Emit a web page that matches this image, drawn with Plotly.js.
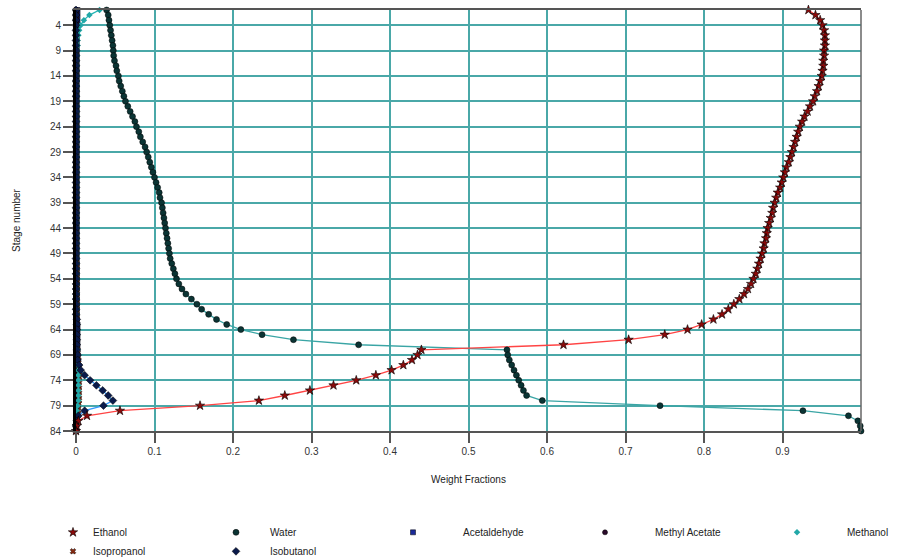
<!DOCTYPE html>
<html>
<head>
<meta charset="utf-8">
<script src="https://cdn.plot.ly/plotly-3.0.1.min.js"></script>
<style>html,body{margin:0;padding:0;background:#fff}#chart{width:898px;height:558px}</style>
</head>
<body>
<div id="chart"></div>
<script>
// ---------- data ----------
const stages = [1,2,3,4,5,6,7,8,9,10,11,12,13,14,15,16,17,18,19,20,21,22,23,24,25,26,27,28,29,30,31,32,33,34,35,36,37,38,39,40,41,42,43,44,45,46,47,48,49,50,51,52,53,54,55,56,57,58,59,60,61,62,63,64,65,66,67,68,69,70,71,72,73,74,75,76,77,78,79,80,81,82,83,84];

const ethanol = [0.933,0.942,0.948,0.951,0.953,0.954,0.954,0.954,0.953,0.953,
  0.952,0.952,0.951,0.950,0.948,0.946,0.944,0.941,0.939,0.935,
  0.932,0.928,0.925,0.922,0.920,0.918,0.916,0.914,0.912,0.910,
  0.908,0.905,0.903,0.901,0.899,0.897,0.894,0.892,0.890,0.888,
  0.887,0.885,0.883,0.881,0.880,0.879,0.877,0.876,0.874,0.872,
  0.870,0.868,0.866,0.863,0.860,0.856,0.851,0.845,0.838,0.831,
  0.823,0.812,0.797,0.779,0.750,0.704,0.621,0.440,0.435,0.428,
  0.417,0.402,0.382,0.357,0.328,0.298,0.266,0.233,0.158,0.056,
  0.014,0.003,0.001,0.000];

const water = [0.039,0.041,0.042,0.043,0.044,0.045,0.046,0.047,0.0475,0.048,
  0.049,0.051,0.052,0.054,0.055,0.057,0.059,0.061,0.063,0.066,
  0.069,0.072,0.075,0.077,0.080,0.082,0.085,0.088,0.090,0.092,
  0.094,0.096,0.098,0.100,0.102,0.104,0.106,0.107,0.109,0.110,
  0.111,0.112,0.113,0.114,0.115,0.116,0.117,0.118,0.119,0.120,
  0.122,0.124,0.126,0.128,0.131,0.135,0.140,0.147,0.154,0.160,
  0.169,0.179,0.192,0.210,0.237,0.277,0.360,0.549,0.550,0.552,
  0.555,0.558,0.561,0.564,0.567,0.570,0.574,0.594,0.744,0.926,
  0.984,0.996,0.999,1.000];

const acetaldehyde = [0.002,0.002,0.002,0.002,0.001,0.001,0.001,0.001,0.001,0.001,
  0.001,0.001,0.001,0.001,0.001,0.001,0.001,0.001,0.001,0.001,
  0.001,0.001,0.001,0.001,0.001,0.001,0.001,0.001,0.001,0.001,
  0.001,0.001,0.001,0.001,0.001,0.001,0.001,0.001,0.001,0.001,
  0.001,0.001,0.001,0.001,0.001,0.001,0.001,0.001,0.001,0.001,
  0.001,0.001,0.001,0.001,0.001,0.001,0.001,0.001,0.001,0.001,
  0.001,0.001,0.002,0.002,0.002,0.002,0.002,0.002,0.002,0.002,
  0.002,0.001,0.001,0.001,0.001,0.001,0.001,0.001,0.001,0.000,
  0.000,0.000,0.000,0.000];

const methylAcetate = [0.001,0.001,0.001,0.001,0.001,0.001,0.001,0.001,0.001,0.001,
  0.001,0.001,0.001,0.001,0.001,0.001,0.001,0.001,0.001,0.001,
  0.001,0.001,0.001,0.001,0.001,0.001,0.001,0.001,0.001,0.001,
  0.001,0.001,0.001,0.001,0.001,0.001,0.001,0.001,0.001,0.001,
  0.001,0.001,0.001,0.001,0.001,0.001,0.001,0.001,0.001,0.001,
  0.001,0.001,0.001,0.001,0.001,0.001,0.001,0.001,0.001,0.001,
  0.001,0.001,0.001,0.001,0.001,0.001,0.001,0.001,0.001,0.001,
  0.001,0.001,0.001,0.001,0.001,0.001,0.001,0.001,0.000,0.000,
  0.000,0.000,0.000,0.000];

const methanol = [0.030,0.017,0.010,0.006,0.004,0.003,0.002,0.002,0.001,0.001,
  0.001,0.001,0.001,0.001,0.001,0.001,0.001,0.001,0.001,0.001,
  0.001,0.001,0.001,0.001,0.001,0.001,0.001,0.001,0.001,0.001,
  0.001,0.001,0.001,0.001,0.001,0.001,0.001,0.001,0.001,0.001,
  0.001,0.001,0.001,0.001,0.001,0.001,0.001,0.001,0.001,0.001,
  0.001,0.001,0.001,0.001,0.001,0.001,0.001,0.001,0.001,0.001,
  0.001,0.001,0.001,0.001,0.001,0.001,0.001,0.002,0.002,0.002,
  0.002,0.003,0.003,0.003,0.003,0.003,0.003,0.003,0.002,0.001,
  0.001,0.000,0.000,0.000];

const isopropanol = [0.000,0.000,0.000,0.000,0.000,0.000,0.000,0.000,0.000,0.000,
  0.000,0.000,0.000,0.000,0.000,0.000,0.000,0.000,0.000,0.000,
  0.000,0.000,0.000,0.000,0.000,0.000,0.000,0.000,0.000,0.000,
  0.000,0.000,0.000,0.000,0.000,0.000,0.000,0.000,0.000,0.000,
  0.000,0.000,0.000,0.000,0.000,0.000,0.000,0.000,0.000,0.000,
  0.001,0.001,0.001,0.001,0.001,0.001,0.001,0.001,0.001,0.001,
  0.001,0.001,0.001,0.001,0.001,0.001,0.001,0.002,0.002,0.003,
  0.003,0.004,0.004,0.004,0.004,0.004,0.004,0.004,0.003,0.003,
  0.002,0.001,0.000,0.000];

const isobutanol = [0.000,0.000,0.000,0.000,0.000,0.000,0.000,0.000,0.000,0.000,
  0.000,0.000,0.000,0.000,0.000,0.000,0.000,0.000,0.000,0.000,
  0.000,0.000,0.000,0.000,0.000,0.000,0.000,0.000,0.000,0.000,
  0.000,0.000,0.000,0.000,0.000,0.000,0.000,0.000,0.000,0.000,
  0.000,0.000,0.000,0.000,0.000,0.000,0.000,0.000,0.000,0.000,
  0.000,0.000,0.000,0.000,0.000,0.000,0.000,0.000,0.000,0.000,
  0.000,0.001,0.001,0.001,0.001,0.001,0.001,0.001,0.002,0.002,
  0.004,0.006,0.011,0.018,0.026,0.034,0.041,0.047,0.035,0.011,
  0.003,0.001,0.000,0.000];

const xTickVals = [0,0.1,0.2,0.3,0.4,0.5,0.6,0.7,0.8,0.9];
const xTickText = ['0','0.1','0.2','0.3','0.4','0.5','0.6','0.7','0.8','0.9'];
const yTickVals = [4,9,14,19,24,29,34,39,44,49,54,59,64,69,74,79,84];

// ---------- series styling ----------
const series = [
  {name:'Acetaldehyde', x:acetaldehyde, line:'#2244dd', marker:{symbol:'square', color:'#1a2a99', size:5, line:{color:'#000', width:0.5}}, legend:'legend3'},
  {name:'Methyl Acetate', x:methylAcetate, line:'#7a2a7a', marker:{symbol:'circle', color:'#2a0a2a', size:5, line:{color:'#000', width:0.5}}, legend:'legend4'},
  {name:'Isopropanol', x:isopropanol, line:'#ff8800', marker:{symbol:'x', color:'#8b2a10', size:5, line:{color:'#000', width:0.5}}, legend:'legend'},
  {name:'Methanol', x:methanol, line:'#22b5b5', marker:{symbol:'diamond', color:'#22a8a8', size:5, line:{color:'#22a8a8', width:0}}, legend:'legend5'},
  {name:'Isobutanol', x:isobutanol, line:'#3399ff', marker:{symbol:'diamond', color:'#0a1a4a', size:6, line:{color:'#000', width:0.5}}, legend:'legend2'},
  {name:'Water', x:water, line:'#3aa5a5', marker:{symbol:'circle', color:'#0b3434', size:6, line:{color:'#000', width:0.5}}, legend:'legend2'},
  {name:'Ethanol', x:ethanol, line:'#ff4444', marker:{symbol:'star', color:'#8b0a0a', size:7, line:{color:'#000', width:0.6}}, legend:'legend'}
];

const legendRank = {'Ethanol':1,'Isopropanol':2,'Water':1,'Isobutanol':2,'Acetaldehyde':1,'Methyl Acetate':1,'Methanol':1};

const traces = [];
series.forEach(s => {
  traces.push({type:'scatter', mode:'lines', x:s.x, y:stages, name:s.name,
    line:{color:s.line, width:1.3}, showlegend:false, hoverinfo:'skip', cliponaxis:false});
});
series.forEach(s => {
  traces.push({type:'scatter', mode:'markers', x:s.x, y:stages, name:s.name,
    marker:s.marker, legend:s.legend, legendrank:legendRank[s.name], showlegend:true, cliponaxis:false});
});

const font = {family:'"Liberation Sans", Arial, sans-serif', size:10, color:'#222'};
const PL = 76, PW = 785;
function leg(xpx, iw) {
  return {xref:'paper', yref:'container', x:(xpx - PL) / PW, y:0.072, xanchor:'left', yanchor:'top',
    orientation:'v', itemwidth:iw, bgcolor:'rgba(0,0,0,0)', borderwidth:0, font:font,
    traceorder:'normal', tracegroupgap:0};
}

const gridColor = '#4aa8a8';
const layout = {
  width:898, height:558,
  margin:{l:PL, r:898 - PL - PW, t:10, b:127},
  paper_bgcolor:'#fff', plot_bgcolor:'#fff',
  font:font,
  xaxis:{range:[0,1], tickvals:xTickVals, ticktext:xTickText, showgrid:true, gridcolor:gridColor, gridwidth:2,
    ticks:'outside', ticklen:10, tickwidth:2, tickcolor:'#555', showline:true, linecolor:'#555', linewidth:2,
    mirror:true, zeroline:false, tickfont:{family:font.family, size:10, color:'#333'},
    title:{text:'Weight Fractions', font:{family:font.family, size:10, color:'#222'}, standoff:20}},
  yaxis:{range:[84,1], tickvals:yTickVals, showgrid:true, gridcolor:gridColor, gridwidth:2,
    ticks:'outside', ticklen:10, tickwidth:2, tickcolor:'#555', showline:true, linecolor:'#000', linewidth:3,
    mirror:false, zeroline:false, tickfont:{family:font.family, size:10, color:'#333'},
    title:{text:'Stage number', font:{family:font.family, size:10, color:'#222'}, standoff:28}},
  shapes:[{type:'line', xref:'paper', yref:'paper', x0:1, x1:1, y0:0, y1:1, line:{color:'#666', width:1.5}}],
  showlegend:true,
  legend:leg(53,30),
  legend2:leg(202,58),
  legend3:leg(363,90),
  legend4:leg(555,90),
  legend5:leg(747,90)
};

Plotly.newPlot('chart', traces, layout, {displayModeBar:false, staticPlot:true});
</script>
</body>
</html>
